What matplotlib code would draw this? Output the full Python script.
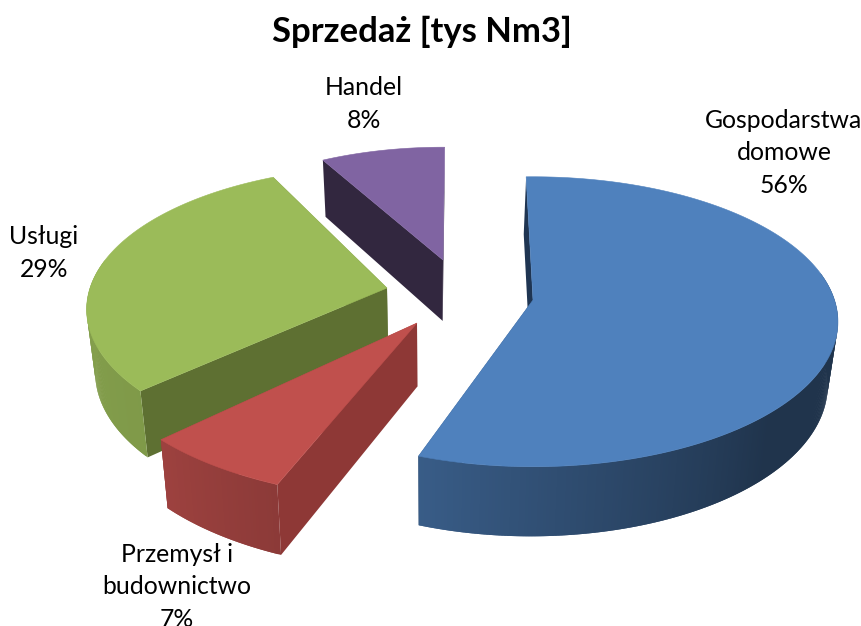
import matplotlib
matplotlib.use("Agg")
import matplotlib.pyplot as plt
import numpy as np
from matplotlib.patches import Polygon

plt.rcParams["font.family"] = ["Lato", "DejaVu Sans"]

title = "Sprzedaż [tys Nm3]"
categories = ["Gospodarstwa\ndomowe", "Przemysł i\nbudownictwo", "Usługi", "Handel"]
shares = [55.7, 6.6, 29.4, 8.3]
colors = ["#4F81BD", "#C0504D", "#9BBB59", "#8064A2"]
wall_colors = ["#1F3552", "#8E3836", "#5E7032", "#32273F"]

# per slice placement in the picture: top apex, scale, small angle skew from the exploded view
apexes = [(533, 300), (417, 323), (387, 288), (443, 260)]
scales = [1.005, 1.065, 0.99, 0.92]
skews = [0.0, 3.1, 5.6, 1.9]
label_pos = [(784, 153), (177, 587), (44, 253), (364, 104)]
draw_order = [2, 3, 0, 1]

START_ANGLE = -1.5
FX, FY, PERSP = 300.0, 141.0, 0.15


def project(apex, scale, angle):
    # angle in degrees, clockwise from the top of the pie
    a = np.radians(angle)
    u, v = np.sin(a), np.cos(a)
    w = 1 + PERSP * v
    return np.column_stack([apex[0] + scale * FX * u / w, apex[1] - scale * FY * v / w])


def lower(pts):
    # same points on the bottom face of the 3D pie
    pts = np.asarray(pts, dtype=float)
    return np.column_stack([430 + 0.975 * (pts[:, 0] - 430), 1.042 * pts[:, 1] + 50])


def rim_shade(angle):
    return np.interp(angle, [90, 135, 200, 226, 280], [0.40, 0.40, 0.72, 0.82, 0.86])


fig, ax = plt.subplots(figsize=(8.62, 6.26), dpi=100)
ax.set_position([0, 0, 1, 1])
ax.set_xlim(0, 862)
ax.set_ylim(626, 0)
ax.axis("off")

edges = START_ANGLE + np.cumsum([0] + shares) * 3.6

for i in draw_order:
    apex, scale = apexes[i], scales[i]
    a0, a1 = edges[i] + skews[i], edges[i + 1] + skews[i]
    angles = np.linspace(a0, a1, max(int(a1 - a0) * 2, 8) + 1)
    arc = project(apex, scale, angles)
    apex_pt = np.array([apex], dtype=float)

    # radial walls
    for end in (arc[:1], arc[-1:]):
        top = np.vstack([apex_pt, end])
        wall = np.vstack([top, lower(top)[::-1]])
        ax.add_patch(Polygon(wall, closed=True, fc=wall_colors[i], lw=0))

    # outer rim, only the front part shows. each strip runs under the next one so no seams appear
    base = np.array(matplotlib.colors.to_rgb(colors[i]))
    bottom = lower(arc)
    for j in range(len(angles) - 1):
        mid = (angles[j] + angles[j + 1]) / 2
        if np.cos(np.radians(mid)) > 0.2:
            continue
        strip = np.vstack([arc[j:j + 3], bottom[j:j + 3][::-1]])
        ax.add_patch(Polygon(strip, closed=True, fc=base * rim_shade(mid), lw=0))

    ax.add_patch(Polygon(np.vstack([apex_pt, arc]), closed=True, fc=colors[i], ec=colors[i], lw=0.4))

for name, share, (x, y) in zip(categories, shares, label_pos):
    ax.text(x, y, f"{name}\n{share:.0f}%", ha="center", va="center", fontsize=17.8,
            color="black", linespacing=1.48)

ax.text(422, 32, title, ha="center", va="center", fontsize=24.9, fontweight="bold", color="black")

fig.savefig("out.png", dpi=100)
plt.close(fig)
